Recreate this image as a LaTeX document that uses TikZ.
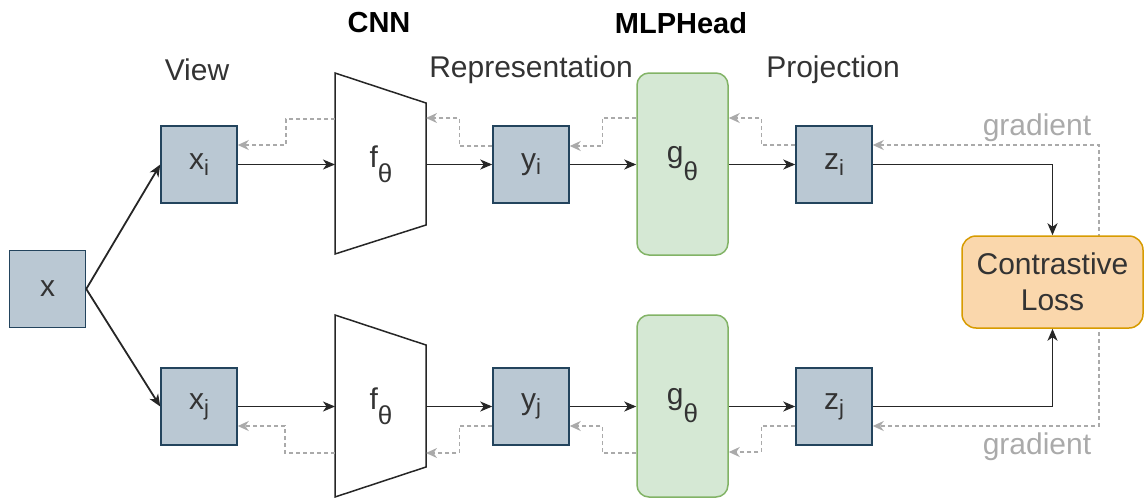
\documentclass[tikz,border=0pt]{standalone}
\usepackage{fontspec}
\setmainfont{Liberation Sans}
\usetikzlibrary{arrows.meta}
\definecolor{boxfill}{HTML}{BAC8D3}
\definecolor{boxdraw}{HTML}{23445D}
\definecolor{gfill}{HTML}{D5E8D4}
\definecolor{gdraw}{HTML}{82B366}
\definecolor{lfill}{HTML}{FAD7AC}
\definecolor{ldraw}{HTML}{D79B00}
\definecolor{txt}{HTML}{333333}
\definecolor{gradc}{HTML}{AAAAAA}
\newcommand\mysub[2]{\raisebox{-#1pt}{\fontsize{22}{22}\selectfont #2}}
\tikzset{
  every node/.style={font=\fontsize{30}{34}\selectfont, text=txt},
  vbox/.style={draw=boxdraw, fill=boxfill, line width=1.5pt, minimum width=76pt, minimum height=77pt, inner sep=0pt},
  gbox/.style={draw=gdraw, fill=gfill, line width=1.5pt, rounded corners=12pt, minimum width=91pt, minimum height=182pt, inner sep=0pt},
  lbox/.style={draw=ldraw, fill=lfill, line width=1.5pt, rounded corners=14pt, minimum width=181pt, minimum height=92pt, inner sep=0pt, align=center, font=\fontsize{30}{36}\selectfont},
  trap/.style={draw=black!85, line width=1.5pt, fill=white},
  flow/.style={draw=black!85, line width=1.8pt, -{Stealth[length=12pt,width=10pt,inset=3.5pt]}},
  grad/.style={draw=gradc, line width=1.3pt, dash pattern=on 4pt off 3pt, -{Stealth[length=11pt,width=10pt,inset=3.5pt]}},
  lab/.style={font=\fontsize{30}{34}\selectfont},
  blab/.style={font=\bfseries\fontsize{29}{34}\selectfont, text=black},
  glab/.style={font=\fontsize{30}{34}\selectfont, text=gradc},
}
\begin{document}
\begin{tikzpicture}[x=1pt,y=-1pt]
\useasboundingbox (0,0) rectangle (1144,498);
% titles
\node[blab] (cnn) at (379,23) {CNN};
\node[blab] (mlp) at (681,23) {MLPHead};
\node[lab] (view) at (197,70) {View};
\node[lab] (rep) at (531,70) {Representation};
\node[lab] (proj) at (833,70) {Projection};
% input
\node[vbox] (x) at (47.5,289) {x};
\node[vbox] (xi) at (199,164.5) {x\mysub{6}{i}};
\node[vbox] (xj) at (199,406.5) {x\mysub{6}{j}};
% trapezoids
\draw[trap] (335,73) -- (426,103) -- (426,225) -- (335,254) -- cycle;
\draw[trap] (335,315) -- (426,345) -- (426,467) -- (335,497) -- cycle;
\node (fi) at (381,164) {f\mysub{15}{\fontsize{26}{26}\selectfont θ}};
\node (fj) at (381,406) {f\mysub{15}{\fontsize{26}{26}\selectfont θ}};
\coordinate (fiL) at (335,164.5);
\coordinate (fiR) at (426,164.5);
\coordinate (fjL) at (335,406.5);
\coordinate (fjR) at (426,406.5);
% representations
\node[vbox] (yi) at (531,164.5) {y\mysub{5}{i}};
\node[vbox] (yj) at (531,406.5) {y\mysub{5}{j}};
% MLP heads
\node[gbox] (gi) at (682.5,164) {g\mysub{18}{\fontsize{26}{26}\selectfont θ}};
\node[gbox] (gj) at (682.5,406) {g\mysub{18}{\fontsize{26}{26}\selectfont θ}};
% projections
\node[vbox] (zi) at (834,164.5) {z\mysub{6}{i}};
\node[vbox] (zj) at (834,406.5) {z\mysub{6}{j}};
% gradient main line (behind loss)
\coordinate (gtop) at (1099,145);
\coordinate (gbot) at (1099,426);
\draw[grad, {Stealth[length=11pt,width=10pt,inset=3.5pt]}-{Stealth[length=11pt,width=10pt,inset=3.5pt]}] (zi.east |- gtop) -- (gtop) -- (gbot) -- (zj.east |- gbot);
\node[glab] (gl1) at (1037,128) {gradient};
\node[glab] (gl2) at (1037,447) {gradient};
% loss
\node[lbox] (loss) at (1052.5,282) {Contrastive\\Loss};
% forward flow
\draw[flow] (x.east) -- (xi.west);
\draw[flow] (x.east) -- (xj.west);
\draw[flow] (xi.east) -- (fiL);
\draw[flow] (fiR) -- (yi.west);
\draw[flow] (yi.east) -- (gi.west |- yi.east);
\draw[flow] (gi.east |- zi.west) -- (zi.west);
\draw[flow] (zi.east) -| (loss.north);
\draw[flow] (xj.east) -- (fjL);
\draw[flow] (fjR) -- (yj.west);
\draw[flow] (yj.east) -- (gj.west |- yj.east);
\draw[flow] (gj.east |- zj.west) -- (zj.west);
\draw[flow] (zj.east) -| (loss.south);
% backward gradients, top
\draw[grad] (zi.west |- 0,145) -- ++(-34,0) |- (gi.east |- 0,118);
\draw[grad] (gi.west |- 0,118) -- ++(-34,0) |- (yi.east |- 0,146);
\draw[grad] (yi.west |- 0,146) -- ++(-33,0) |- (fiR |- 0,118);
\draw[grad] (fiL |- 0,119) -- ++(-49,0) |- (xi.east |- 0,145);
% backward gradients, bottom
\draw[grad] (zj.west |- 0,426) -- ++(-34,0) |- (gj.east |- 0,452);
\draw[grad] (gj.west |- 0,453) -- ++(-34,0) |- (yj.east |- 0,426);
\draw[grad] (yj.west |- 0,426) -- ++(-33,0) |- (fjR |- 0,453);
\draw[grad] (fjL |- 0,453) -- ++(-50,0) |- (xj.east |- 0,426);
\end{tikzpicture}
\end{document}
